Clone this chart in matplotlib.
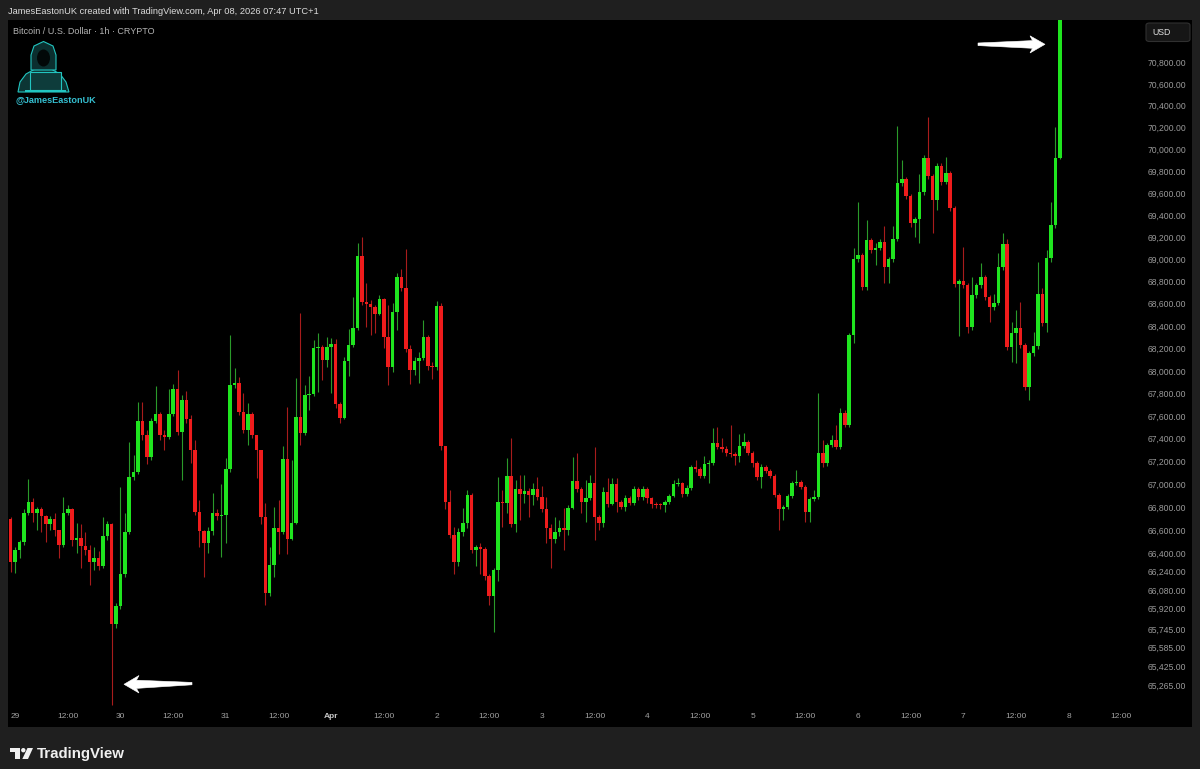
import matplotlib.pyplot as plt
import numpy as np
from matplotlib.patches import Rectangle, Polygon, Ellipse, FancyBboxPatch
from matplotlib.ticker import NullLocator, NullFormatter

W, H = 1200, 769

# BTC/USD 1h candles, Mar 28 23:00 .. Apr 7 23:00
first_open = 66700
closes = [
    66320, 66430, 66500, 66750, 66845, 66750, 66785, 66725, 66655, 66700, 66605, 66475,
    66750, 66785, 66515, 66535, 66465, 66430, 66325, 66360, 66290, 66545, 66650, 65790,
    65945, 66220, 66585, 67065, 67110, 67560, 67435, 67240, 67560, 67620, 67435, 67420,
    67620, 67840, 67460, 67745, 67575, 67305, 66760, 66595, 66490, 66595, 66750, 66725,
    66735, 67135, 67875, 67895, 67640, 67480, 67620, 67435, 67305, 66715, 66055, 66300,
    66620, 66585, 67225, 66525, 66665, 67595, 67455, 67790, 67795, 68205, 68215, 68100,
    68215, 68240, 67710, 67585, 68090, 68235, 68385, 69030, 68620, 68600, 68575, 68510,
    68645, 68305, 68035, 68530, 68840, 68745, 68195, 68010, 68090, 68115, 68305, 68045,
    68035, 68580, 67340, 66845, 66560, 66320, 66580, 66665, 66910, 66430, 66450, 66440,
    66205, 66030, 66250, 66845, 66840, 67075, 66655, 66960, 66915, 66945, 66910, 66960,
    66890, 66785, 66620, 66525, 66585, 66615, 66605, 66795, 67030, 66960, 66845, 66880,
    67010, 66715, 66665, 66935, 66830, 67005, 66845, 66805, 66880, 66840, 66960, 66890,
    66960, 66880, 66830, 66820, 66815, 66845, 66900, 67005, 67010, 66915, 66970, 67155,
    67135, 67075, 67180, 67190, 67365, 67330, 67310, 67275, 67270, 67250, 67340, 67375,
    67275, 67190, 67065, 67155, 67120, 67075, 66910, 66780, 66805, 66900, 67010, 67020,
    66975, 66760, 66875, 66890, 67275, 67190, 67345, 67385, 67330, 67630, 67525, 68320,
    69005, 69040, 68750, 69175, 69085, 69105, 69155, 68930, 69005, 69185, 69695, 69730,
    69575, 69330, 69365, 69610, 69920, 69755, 69540, 69845, 69700, 69785, 69465, 68780,
    68805, 68770, 68395, 68680, 68770, 68840, 68665, 68575, 68610, 68930, 69140, 68215,
    68340, 68385, 68235, 67860, 68160, 68225, 68690, 68430, 69010, 69310, 69920, 71350,
]
highs = [
    66715, 66450, 66515, 66780, 67045, 66880, 66805, 66805, 66735, 66725, 66745, 66605,
    66890, 66815, 66795, 66665, 66650, 66585, 66475, 66455, 66420, 66715, 66680, 66665,
    65970, 66975, 66750, 67375, 67260, 67725, 67725, 67480, 67585, 67870, 67640, 67480,
    67840, 67885, 68010, 67790, 67825, 67610, 67390, 66865, 66605, 66630, 66925, 66780,
    67005, 67235, 68320, 68025, 67945, 67805, 67720, 67640, 67435, 67305, 66840, 66450,
    66805, 66865, 67340, 67680, 67215, 67940, 68520, 67875, 67955, 68280, 68340, 68235,
    68305, 68295, 68285, 67725, 68125, 68375, 68665, 69150, 69205, 68790, 68635, 68590,
    68680, 68655, 68590, 68610, 68875, 68915, 69095, 68235, 68125, 68170, 68455, 68320,
    68080, 68625, 68610, 67340, 66950, 66630, 66620, 66795, 66950, 66925, 66475, 66490,
    66455, 66220, 66275, 67065, 66950, 67235, 67410, 67040, 67085, 67085, 66970, 67010,
    67065, 66985, 66890, 66650, 66715, 66690, 66795, 66820, 67240, 67275, 66975, 67040,
    67085, 67330, 66735, 66975, 67055, 67055, 67055, 66865, 66910, 66900, 66985, 66975,
    66985, 66975, 66890, 66845, 66840, 66865, 66915, 67040, 67055, 67020, 66995, 67170,
    67215, 67155, 67250, 67215, 67495, 67505, 67410, 67340, 67525, 67285, 67445, 67455,
    67390, 67295, 67205, 67180, 67170, 67135, 67090, 66925, 66820, 66915, 67030, 67125,
    67040, 66995, 66890, 66950, 67805, 67385, 67365, 67435, 67525, 67675, 67655, 68340,
    69105, 69520, 69055, 69355, 69195, 69150, 69185, 69305, 69020, 69305, 70215, 69900,
    69750, 69595, 69385, 69775, 69945, 70295, 69775, 69875, 69875, 69930, 69800, 69485,
    68825, 69110, 68790, 68840, 68790, 68965, 68860, 68680, 68690, 69055, 69240, 69185,
    68440, 68545, 68620, 68250, 68180, 68350, 68975, 68745, 69085, 69520, 70205, 71450,
]
lows = [
    66240, 66230, 66360, 66475, 66735, 66675, 66605, 66580, 66500, 66605, 66550, 66360,
    66450, 66735, 66465, 66405, 66275, 66380, 66125, 66255, 66255, 66275, 66515, 65095,
    65755, 65920, 66190, 66570, 67040, 67090, 67390, 67180, 67215, 67535, 67390, 67305,
    67400, 67605, 67435, 67040, 67540, 67190, 66735, 66455, 66190, 66405, 66560, 66690,
    66370, 66490, 67110, 67850, 67610, 67455, 67345, 67410, 67055, 66650, 65955, 66030,
    66190, 66390, 66570, 66390, 66510, 66650, 67345, 67435, 67655, 67780, 67815, 67920,
    68035, 67805, 67675, 67535, 67570, 67955, 68215, 68365, 68590, 68395, 68320, 68340,
    68495, 68205, 67875, 67990, 68365, 68715, 68170, 67885, 67965, 67895, 68100, 68010,
    67930, 68010, 67305, 66780, 66535, 66215, 66290, 66550, 66620, 66405, 66290, 66215,
    66170, 65955, 65720, 66155, 66630, 66750, 66630, 66580, 66690, 66840, 66715, 66820,
    66865, 66760, 66490, 66275, 66490, 66545, 66430, 66560, 66780, 66935, 66750, 66675,
    66865, 66510, 66605, 66630, 66805, 66815, 66760, 66780, 66770, 66815, 66820, 66865,
    66865, 66840, 66795, 66795, 66780, 66760, 66830, 66890, 66985, 66890, 66900, 66950,
    67110, 67055, 67055, 67010, 67170, 67310, 67285, 67250, 67240, 67170, 67195, 67320,
    67260, 67155, 67040, 66970, 67100, 67055, 66890, 66605, 66690, 66785, 66880, 66995,
    66960, 66675, 66675, 66855, 66875, 67155, 67160, 67330, 67310, 67310, 67505, 67505,
    68250, 68975, 68725, 68725, 69055, 68950, 69085, 68790, 68790, 68975, 69165, 69665,
    69550, 69295, 69205, 69150, 69585, 69730, 69240, 69450, 69675, 69685, 69440, 68750,
    68315, 68745, 68340, 68365, 68655, 68745, 68635, 68440, 68545, 68590, 68905, 68190,
    68080, 68070, 68205, 67830, 67745, 68135, 68195, 68405, 68350, 68975, 69285, 69910,
]

price_ticks = [70800, 70600, 70400, 70200, 70000, 69800, 69600, 69400, 69200, 69000,
               68800, 68600, 68400, 68200, 68000, 67800, 67600, 67400, 67200, 67000,
               66800, 66600, 66400, 66240, 66080, 65920, 65745, 65585, 65425, 65265]
time_labels = ['29', '12:00', '30', '12:00', '31', '12:00', 'Apr', '12:00', '2', '12:00',
               '3', '12:00', '4', '12:00', '5', '12:00', '6', '12:00', '7', '12:00',
               '8', '12:00']

closes = np.array(closes, float)
opens = np.concatenate([[first_open], closes[:-1]])
highs = np.maximum(np.array(highs, float), np.maximum(opens, closes))
lows = np.minimum(np.array(lows, float), np.minimum(opens, closes))
x = np.arange(len(closes))
up = closes >= opens

plt.rcParams['font.family'] = ['Liberation Sans', 'DejaVu Sans']

fig = plt.figure(figsize=(12, 7.69), dpi=100, facecolor='#1f1f1f')


def P(px, py):
    # pixel (from top-left) -> figure fraction
    return (px / W, 1 - py / H)


def box(l, t, r, b):
    return [l / W, 1 - b / H, (r - l) / W, (b - t) / H]


# black chart panel (behind the axes)
fig.patches.append(Rectangle(P(8, 727), (1192 - 8) / W, (727 - 20) / H,
                             transform=fig.transFigure, facecolor='black', zorder=-10))

ax = fig.add_axes(box(8, 20, 1140, 707))
ax.set_facecolor('black')
ax.set_yscale('log')

green, red = '#1fe51f', '#ef1c1c'
wick_cols = np.where(up, '#2a9a2a', '#a81c1c')
body_cols = np.where(up, green, red)

ax.vlines(x, lows, highs, colors=wick_cols, linewidth=0.8, zorder=2)
bottom = np.minimum(opens, closes)
height = np.maximum(np.abs(closes - opens), 9)
ax.bar(x, height, bottom=bottom, width=0.8, color=body_cols, linewidth=0, zorder=3)

ax.set_xlim(-0.62, 257.25)
ax.set_ylim(65078, 71192)

for s in ax.spines.values():
    s.set_visible(False)

ax.yaxis.tick_right()
ax.set_yticks(price_ticks, labels=[f'{p:,.2f}' for p in price_ticks])
ax.yaxis.set_minor_locator(NullLocator())
ax.yaxis.set_minor_formatter(NullFormatter())
ax.tick_params(axis='y', length=0, pad=5.5, labelsize=6.2, labelcolor='#9a9a9a')

ax.set_xticks(1 + 12 * np.arange(len(time_labels)), labels=time_labels)
ax.tick_params(axis='x', length=0, pad=4.2, labelsize=6, labelcolor='#a3a3a3')
for lbl in ax.get_xticklabels():
    if lbl.get_text() == 'Apr':
        lbl.set_fontweight('bold')
        lbl.set_color('#c8c8c8')

# header texts
fig.text(*P(8, 12), 'JamesEastonUK created with TradingView.com, Apr 08, 2026 07:47 UTC+1',
         color='#dcdcdc', fontsize=6.7, va='center', ha='left')
fig.text(*P(13, 31.7), 'Bitcoin / U.S. Dollar · 1h · CRYPTO',
         color='#b4b4b4', fontsize=6.5, va='center', ha='left')

# currency button
fig.patches.append(FancyBboxPatch(P(1146, 41.5), 44 / W, 18.5 / H,
                                  boxstyle='round,pad=0,rounding_size=0.003',
                                  transform=fig.transFigure, fc='#161616', ec='#303030', lw=0.8))
fig.text(*P(1152, 32.7), 'USD', color='#e0e0e0', fontsize=6.3, va='center', ha='left')

# white arrows
left_arrow = [(124, 684.3), (139, 675.5), (136.5, 680.2), (192, 682.4), (192, 684.8),
              (136.5, 688.4), (139, 693)]
right_arrow = [(1045, 44.3), (1030, 35.8), (1032.5, 40.6), (978, 43), (978, 45.6),
               (1032.5, 48.3), (1030, 53)]
for shape in (left_arrow, right_arrow):
    fig.patches.append(Polygon([P(a, b) for a, b in shape], closed=True,
                               transform=fig.transFigure, fc='white', ec='white', lw=0.4, zorder=5))

# hooded avatar logo
teal = '#22c5c0'
fig.patches.append(Polygon([P(*v) for v in [(18, 92), (20, 82), (26, 74), (35, 69), (51, 69),
                                             (60, 74), (66, 82), (69, 92)]],
                           transform=fig.transFigure, fc='#0c3534', ec=teal, lw=0.8))
fig.patches.append(Polygon([P(*v) for v in [(31, 70), (31, 55), (34, 46), (43.5, 41.5),
                                             (53, 46), (56, 55), (56, 70)]],
                           transform=fig.transFigure, fc='#0b2f2f', ec=teal, lw=0.8))
fig.patches.append(Ellipse(P(43.5, 58), 13 / W, 17 / H, transform=fig.transFigure,
                           fc='#020808', ec='none'))
fig.patches.append(Rectangle(P(30, 90), 31 / W, 18 / H, transform=fig.transFigure,
                             fc='#0e3c3b', ec=teal, lw=0.8))
fig.patches.append(Rectangle(P(25, 91.5), 41 / W, 1.5 / H, transform=fig.transFigure,
                             fc=teal, ec='none'))
fig.text(*P(15, 100), '@JamesEastonUK', color='#35bfd0', fontsize=6.6, fontweight='bold',
         family=['Liberation Sans Narrow', 'Liberation Sans', 'DejaVu Sans'],
         va='center', ha='left')

# TradingView footer logo
for l, t, r, b in [(9.6, 748, 19.5, 752.3), (15.2, 748, 19.5, 759)]:
    fig.patches.append(Rectangle(P(l, b), (r - l) / W, (b - t) / H,
                                 transform=fig.transFigure, fc='#f0f0f0', ec='none'))
fig.patches.append(Ellipse(P(23.3, 750.2), 4.4 / W, 4.4 / H, transform=fig.transFigure,
                           fc='#f0f0f0', ec='none'))
fig.patches.append(Polygon([P(27.5, 748), P(33, 748), P(28, 759), P(22.3, 759)],
                           transform=fig.transFigure, fc='#f0f0f0', ec='none'))
fig.text(*P(36.5, 758), 'TradingView', color='#f0f0f0', fontsize=10.8, fontweight='bold',
         va='baseline', ha='left')

fig.savefig('out.png', dpi=100, facecolor=fig.get_facecolor())
